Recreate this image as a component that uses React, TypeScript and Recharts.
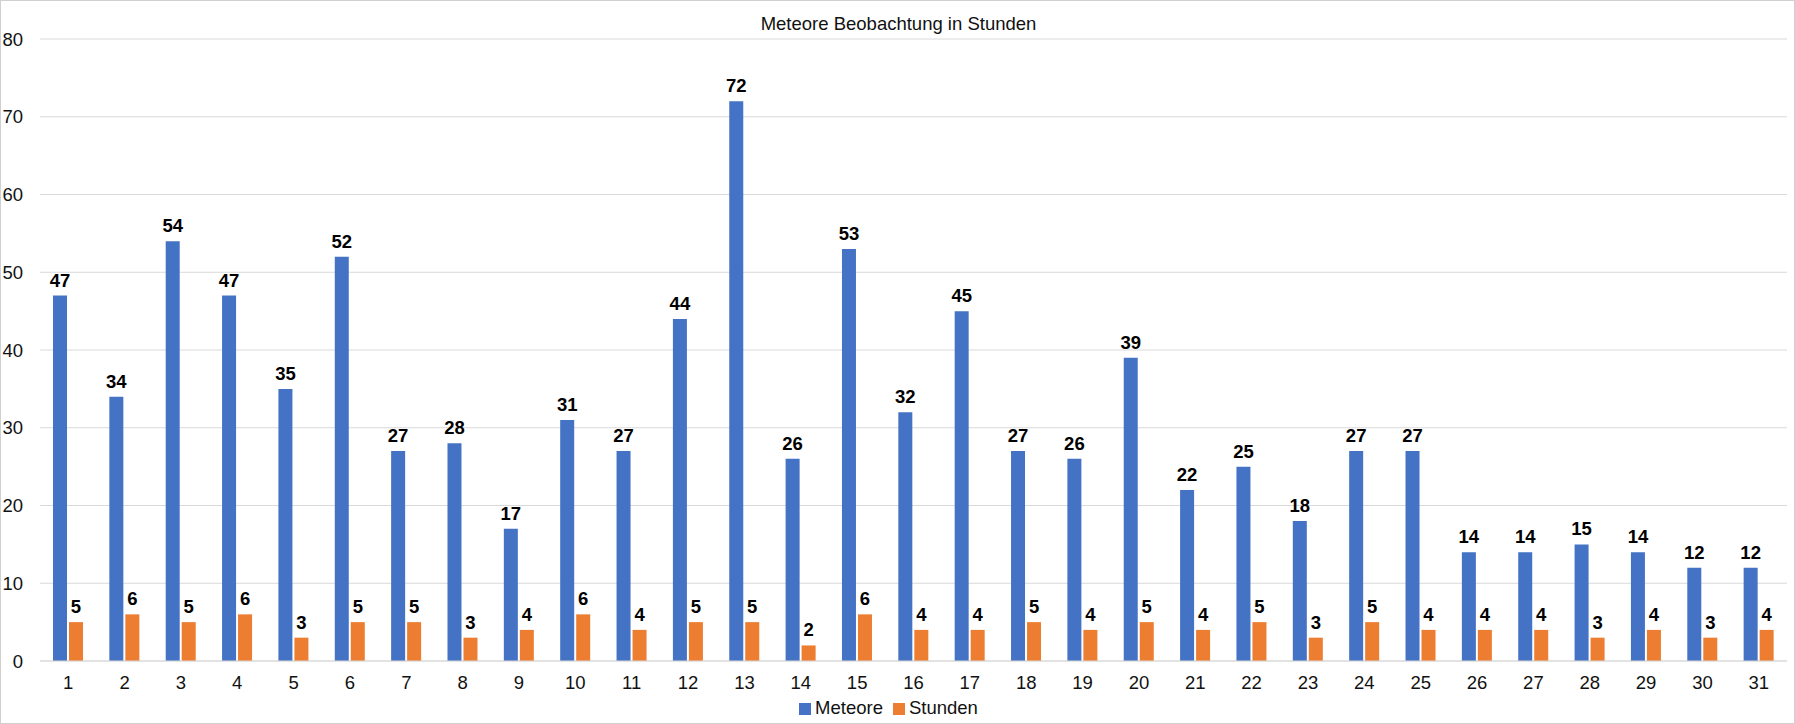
import { Bar, BarChart, CartesianGrid, LabelList, Legend, XAxis, YAxis } from "recharts";

const days = [
  "1", "2", "3", "4", "5", "6", "7", "8", "9", "10", "11", "12", "13", "14", "15", "16",
  "17", "18", "19", "20", "21", "22", "23", "24", "25", "26", "27", "28", "29", "30", "31",
];

const meteore = [
  47, 34, 54, 47, 35, 52, 27, 28, 17, 31, 27, 44, 72, 26, 53, 32, 45, 27, 26, 39, 22, 25,
  18, 27, 27, 14, 14, 15, 14, 12, 12,
];

const stunden = [
  5, 6, 5, 6, 3, 5, 5, 3, 4, 6, 4, 5, 5, 2, 6, 4, 4, 5, 4, 5, 4, 5, 3, 5, 4, 4, 4, 3, 4, 3, 4,
];

const yTicks = [0, 10, 20, 30, 40, 50, 60, 70, 80];

const data = days.map((day, i) => ({
  day,
  Meteore: meteore[i],
  Stunden: stunden[i],
}));

const font = "'Liberation Sans', Arial, sans-serif";

const App = () => {
  return (
    <div
      style={{
        position: "absolute",
        left: 0,
        top: 0,
        width: 1795,
        height: 724,
        background: "#fff",
        fontFamily: font,
        boxSizing: "border-box",
        border: "1px solid #d0d0d0",
      }}
    >
      <div
        style={{
          position: "absolute",
          top: 12,
          left: 0,
          width: 1795,
          textAlign: "center",
          fontSize: 18.5,
          color: "#111",
        }}
      >
        Meteore Beobachtung in Stunden
      </div>
      <BarChart
        width={1793}
        height={722}
        data={data}
        margin={{ top: 38, right: 7, bottom: 6, left: -1 }}
        barSize={14}
        barGap={2}
        style={{ fontFamily: font }}
      >
        <CartesianGrid vertical={false} stroke="#d9d9d9" />
        <XAxis
          dataKey="day"
          tickLine={false}
          axisLine={{ stroke: "#d9d9d9" }}
          tickSize={0}
          tickMargin={15}
          height={34}
          tick={{ fontSize: 18.5, fill: "#111" }}
          interval={0}
        />
        <YAxis
          domain={[0, 80]}
          ticks={yTicks}
          width={40}
          axisLine={false}
          tickLine={false}
          tickSize={0}
          tickMargin={17}
          tick={{ fontSize: 18.5, fill: "#111" }}
        />
        <Legend
          verticalAlign="bottom"
          align="center"
          iconType="square"
          iconSize={12}
          wrapperStyle={{ fontSize: 18.5, bottom: 4 }}
          formatter={(value) => <span style={{ color: "#111" }}>{value}</span>}
        />
        <Bar dataKey="Meteore" fill="#4472c4" isAnimationActive={false}>
          <LabelList
            dataKey="Meteore"
            position="top"
            offset={9}
            style={{ fontSize: 18.5, fontWeight: "bold", fill: "#000" }}
          />
        </Bar>
        <Bar dataKey="Stunden" fill="#ed7d31" isAnimationActive={false}>
          <LabelList
            dataKey="Stunden"
            position="top"
            offset={9}
            style={{ fontSize: 18.5, fontWeight: "bold", fill: "#000" }}
          />
        </Bar>
      </BarChart>
    </div>
  );
};

export default App;
